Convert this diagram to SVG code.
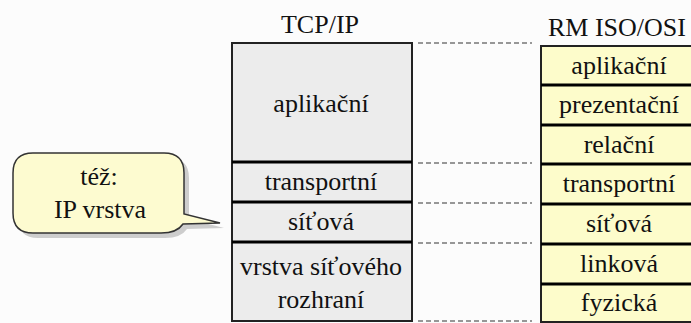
<svg xmlns="http://www.w3.org/2000/svg" width="691" height="323" viewBox="0 0 691 323">
<style>
text{font-family:"Liberation Serif","Times New Roman",serif;font-size:26px;fill:#111;text-anchor:middle}
.tcp{fill:#ececec;stroke:#222;stroke-width:2}
.osi{fill:#fdfccb;stroke:#222;stroke-width:2}
.div{stroke:#000;stroke-width:3}
.dash{stroke:#333;stroke-width:1.2;stroke-dasharray:5 3;fill:none}
</style>
<rect width="691" height="323" fill="#fcfcfc"/>
<g id="callout">
<path d="M38,158 H169 Q189,158 189,178 V219 L224,228 L187,229 Q181,238 165,238 H38 Q18,238 18,218 V178 Q18,158 38,158 Z" fill="#bdbdbd" opacity="0.75"/>
<path d="M33,153 H164 Q184,153 184,173 V214 L220,223 L183,224 Q177,233 161,233 H33 Q13,233 13,213 V173 Q13,153 33,153 Z" fill="#fdfbd0" stroke="#333" stroke-width="1.5"/>
<text x="99" y="185">též:</text>
<text x="100" y="218">IP vrstva</text>
</g>
<g id="tcpip">
<text x="320" y="33">TCP/IP</text>
<rect class="tcp" x="232" y="43" width="180" height="278"/>
<g id="tcp-aplikacni"><text x="321" y="112">aplikační</text></g>
<g id="tcp-transportni"><text x="321" y="190">transportní</text></g>
<g id="tcp-sitova"><text x="321" y="230">síťová</text></g>
<g id="tcp-rozhrani"><text x="321" y="275">vrstva síťového</text><text x="321" y="308">rozhraní</text></g>
<line class="div" x1="232" y1="162" x2="412" y2="162"/>
<line class="div" x1="232" y1="202" x2="412" y2="202"/>
<line class="div" x1="232" y1="242" x2="412" y2="242"/>
</g>
<g id="connectors">
<line class="dash" x1="418" y1="43" x2="532" y2="43"/>
<line class="dash" x1="418" y1="163" x2="532" y2="163"/>
<line class="dash" x1="418" y1="203" x2="532" y2="203"/>
<line class="dash" x1="418" y1="243" x2="532" y2="243"/>
<line class="dash" x1="418" y1="321" x2="532" y2="321"/>
</g>
<g id="osi">
<text x="617" y="36">RM ISO/OSI</text>
<rect class="osi" x="541" y="46" width="160" height="276"/>
<g id="osi-aplikacni"><text x="619" y="74">aplikační</text></g>
<g id="osi-prezentacni"><text x="619" y="113">prezentační</text></g>
<g id="osi-relacni"><text x="619" y="153">relační</text></g>
<g id="osi-transportni"><text x="619" y="192">transportní</text></g>
<g id="osi-sitova"><text x="619" y="232">síťová</text></g>
<g id="osi-linkova"><text x="619" y="272">linková</text></g>
<g id="osi-fyzicka"><text x="619" y="311">fyzická</text></g>
<line class="div" x1="541" y1="85" x2="691" y2="85"/>
<line class="div" x1="541" y1="125" x2="691" y2="125"/>
<line class="div" x1="541" y1="164" x2="691" y2="164"/>
<line class="div" x1="541" y1="204" x2="691" y2="204"/>
<line class="div" x1="541" y1="244" x2="691" y2="244"/>
<line class="div" x1="541" y1="284" x2="691" y2="284"/>
</g>
</svg>
